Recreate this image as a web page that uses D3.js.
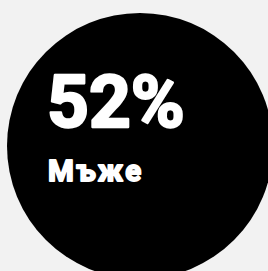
<!DOCTYPE html>
<html>
<head>
<meta charset="utf-8">
<script src="https://cdn.jsdelivr.net/npm/d3@7"></script>
<style>
  html, body { margin: 0; padding: 0; background: #f2f2f2; }
  svg { display: block; }
</style>
</head>
<body>
<div id="chart"></div>
<script>
// share shown in the bubble
let shares = [52];
let labels = ["Мъже"];

const size = {w: 268, h: 271};
const cx = 140, cy = 146, r = 133;

let svg = d3.select("#chart")
  .append("svg")
  .attr("width", size.w)
  .attr("height", size.h);

svg.append("rect")
  .attr("width", size.w)
  .attr("height", size.h)
  .attr("fill", "#f2f2f2");

let g = svg.selectAll("g.bubble")
  .data(shares)
  .enter()
  .append("g")
  .attr("class", "bubble");

g.append("circle")
  .attr("cx", cx)
  .attr("cy", cy)
  .attr("r", r)
  .attr("fill", "#000000");

// no black weight installed, so a thin stroke fattens the bold face
g.append("text")
  .attr("x", 47)
  .attr("y", 127)
  .attr("fill", "#ffffff")
  .attr("stroke", "#ffffff")
  .attr("stroke-width", 2.4)
  .attr("stroke-linejoin", "round")
  .style("font-family", "Roboto, sans-serif")
  .style("font-weight", 700)
  .style("font-size", "73px")
  .text(function (d) { return d + "%"; });

g.append("text")
  .attr("x", 48)
  .attr("y", 181)
  .attr("fill", "#ffffff")
  .attr("stroke", "#ffffff")
  .attr("stroke-width", 1.8)
  .attr("stroke-linejoin", "round")
  .style("font-family", "Roboto, sans-serif")
  .style("font-weight", 700)
  .style("font-size", "29.5px")
  .style("letter-spacing", "2.4px")
  .text(function (d, i) { return labels[i]; });
</script>
</body>
</html>
